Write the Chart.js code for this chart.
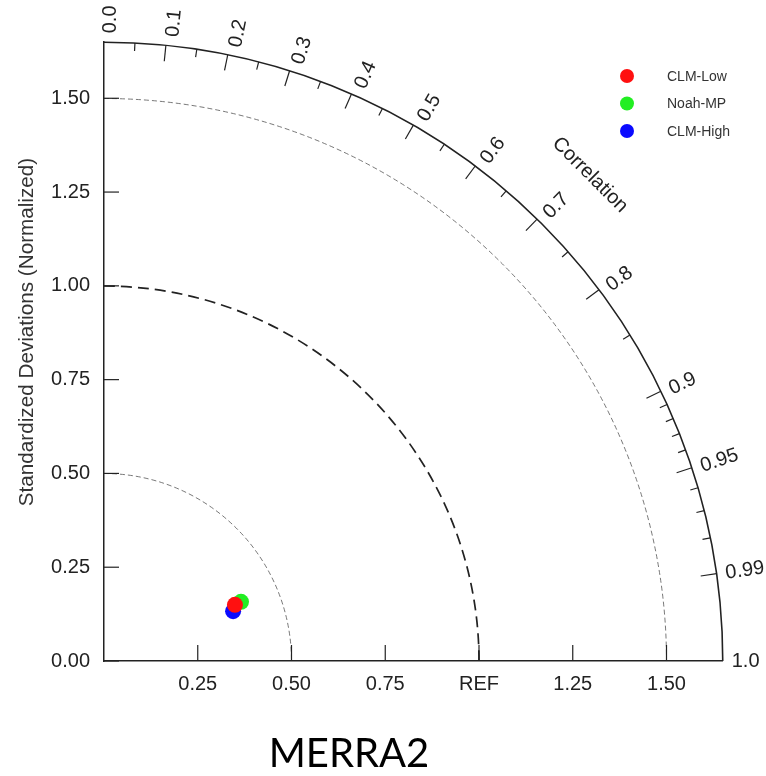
<!DOCTYPE html>
<html><head><meta charset="utf-8">
<script src="https://cdn.jsdelivr.net/npm/chart.js@4.4.1/dist/chart.umd.min.js"></script>
<style>html,body{margin:0;padding:0;background:#fff}#wrap{width:766px;height:776px}</style>
</head><body><div id="wrap"><canvas id="c" width="766" height="776"></canvas></div>
<script>
// ---- data ----
const seriesNames = ['CLM-Low', 'Noah-MP', 'CLM-High'];
const stdDevs = [0.380, 0.398, 0.369];
const correlations = [0.919, 0.918, 0.933];
const yTickValues = [0, 0.25, 0.5, 0.75, 1.0, 1.25, 1.5];
const yTickLabels = ['0.00', '0.25', '0.50', '0.75', '1.00', '1.25', '1.50'];
const xTickValues = [0.25, 0.5, 0.75, 1.0, 1.25, 1.5];
const xTickLabels = ['0.25', '0.50', '0.75', 'REF', '1.25', '1.50'];
const corrLabelValues = [0, 0.1, 0.2, 0.3, 0.4, 0.5, 0.6, 0.7, 0.8, 0.9, 0.95, 0.99, 1.0];
const corrLabels = ['0.0', '0.1', '0.2', '0.3', '0.4', '0.5', '0.6', '0.7', '0.8', '0.9', '0.95', '0.99', '1.0'];
const corrMajorTicks = [0.1, 0.2, 0.3, 0.4, 0.5, 0.6, 0.7, 0.8, 0.9, 0.95, 0.99];
const corrMinorTicks = [0.05, 0.15, 0.25, 0.35, 0.45, 0.55, 0.65, 0.75, 0.85, 0.91, 0.92, 0.93, 0.94, 0.96, 0.97, 0.98];
const stdArcs = [0.5, 1.0, 1.5];
const maxStd = 1.65;
const chartTitle = 'MERRA2';
const yAxisTitle = 'Standardized Deviations (Normalized)';
const corrTitle = 'Correlation';

// ---- styles ----
const seriesColors = ['#ff1010', '#22ee22', '#0a0aff'];
const seriesOrder = [0, 2, 1];
const FONT = '"Liberation Sans", Arial, Helvetica, sans-serif';
const TXT = '#222';

const datasets = seriesNames.map((n, i) => ({
  label: n,
  data: [{ x: stdDevs[i] * correlations[i], y: stdDevs[i] * Math.sqrt(1 - correlations[i] * correlations[i]) }],
  backgroundColor: seriesColors[i],
  borderWidth: 0,
  pointRadius: 8,
  pointHoverRadius: 8,
  order: seriesOrder[i]
}));

const taylorPlugin = {
  id: 'taylor',
  beforeDatasetsDraw(chart) {
    const { ctx, scales: { x, y } } = chart;
    const ox = x.getPixelForValue(0), oy = y.getPixelForValue(0);
    const rpx = v => x.getPixelForValue(v) - ox;
    const R = rpx(maxStd);
    ctx.save();
    // std dev arcs
    stdArcs.forEach(v => {
      ctx.beginPath();
      if (v === 1.0) { ctx.setLineDash([11, 6]); ctx.lineWidth = 1.7; ctx.strokeStyle = '#222'; }
      else { ctx.setLineDash([5, 3]); ctx.lineWidth = 0.8; ctx.strokeStyle = '#555'; }
      ctx.arc(ox, oy, rpx(v), -Math.PI / 2, 0);
      ctx.stroke();
    });
    ctx.setLineDash([]);
    // outer arc
    ctx.lineWidth = 1.6; ctx.strokeStyle = '#222';
    ctx.beginPath(); ctx.arc(ox, oy, R, -Math.PI / 2, 0); ctx.stroke();
    // correlation ticks
    const tick = (c, len) => {
      const t = Math.acos(c);
      ctx.beginPath();
      ctx.moveTo(ox + R * Math.cos(t), oy - R * Math.sin(t));
      ctx.lineTo(ox + (R - len) * Math.cos(t), oy - (R - len) * Math.sin(t));
      ctx.stroke();
    };
    ctx.lineWidth = 1.2;
    corrMajorTicks.forEach(c => tick(c, 16));
    corrMinorTicks.forEach(c => tick(c, 8));
    // axis ticks (inward)
    yTickValues.forEach(v => {
      const py = y.getPixelForValue(v);
      ctx.beginPath(); ctx.moveTo(ox, py); ctx.lineTo(ox + 15, py); ctx.stroke();
    });
    xTickValues.forEach(v => {
      const px = x.getPixelForValue(v);
      ctx.beginPath(); ctx.moveTo(px, oy); ctx.lineTo(px, oy - 16); ctx.stroke();
    });
    // correlation labels
    ctx.fillStyle = TXT;
    ctx.font = '20px ' + FONT;
    ctx.textAlign = 'left'; ctx.textBaseline = 'middle';
    corrLabelValues.forEach((c, i) => {
      const t = Math.acos(c);
      const rr = R + 9;
      ctx.save();
      ctx.translate(ox + rr * Math.cos(t), oy - rr * Math.sin(t));
      ctx.rotate(-t);
      ctx.fillText(corrLabels[i], 0, 6 * Math.sin(t));
      ctx.restore();
    });
    // correlation title
    ctx.save();
    ctx.translate(590, 175);
    ctx.rotate(Math.PI / 4);
    ctx.textAlign = 'center';
    ctx.fillText(corrTitle, 0, 0);
    ctx.restore();
    // y axis title
    ctx.save();
    ctx.translate(27, 332);
    ctx.rotate(-Math.PI / 2);
    ctx.textAlign = 'center';
    ctx.font = '20.7px ' + FONT;
    ctx.fillStyle = '#333';
    ctx.fillText(yAxisTitle, 0, 0);
    ctx.restore();
    ctx.restore();
  },
  afterDraw(chart) {
    const { ctx } = chart;
    ctx.save();
    // legend
    ctx.font = '14px ' + FONT;
    ctx.textAlign = 'left'; ctx.textBaseline = 'middle';
    seriesNames.forEach((n, i) => {
      const ly = 76 + i * 27.5;
      ctx.beginPath(); ctx.fillStyle = seriesColors[i];
      ctx.arc(627, ly, 7, 0, Math.PI * 2); ctx.fill();
      ctx.fillStyle = '#333';
      ctx.fillText(n, 667, ly + 1);
    });
    // title
    ctx.font = '40px Lato, "Open Sans", sans-serif';
    ctx.fillStyle = '#000';
    ctx.textAlign = 'center'; ctx.textBaseline = 'alphabetic';
    ctx.fillText(chartTitle, 349, 767);
    ctx.restore();
  }
};

new Chart(document.getElementById('c'), {
  type: 'scatter',
  data: { datasets },
  options: {
    responsive: false,
    animation: false,
    layout: { padding: { left: 0, right: 43.25, top: 42, bottom: 0 } },
    plugins: { legend: { display: false }, tooltip: { enabled: false } },
    scales: {
      x: {
        type: 'linear', min: 0, max: maxStd,
        afterBuildTicks: s => { s.ticks = xTickValues.map(v => ({ value: v })); },
        afterFit: s => { s.height = 115; },
        grid: { display: false, drawTicks: false },
        border: { display: true, color: '#222', width: 1.5 },
        ticks: {
          padding: 11, color: TXT, font: { family: FONT, size: 20 },
          maxRotation: 0, autoSkip: false,
          callback: (v, i) => xTickLabels[i]
        }
      },
      y: {
        type: 'linear', min: 0, max: maxStd,
        afterBuildTicks: s => { s.ticks = yTickValues.map(v => ({ value: v })); },
        afterFit: s => { s.width = 104; },
        grid: { display: false, drawTicks: false },
        border: { display: true, color: '#222', width: 1.5 },
        ticks: {
          padding: 14, color: TXT, font: { family: FONT, size: 20 },
          autoSkip: false,
          callback: (v, i) => yTickLabels[i]
        }
      }
    }
  },
  plugins: [taylorPlugin]
});
</script>
</body></html>
